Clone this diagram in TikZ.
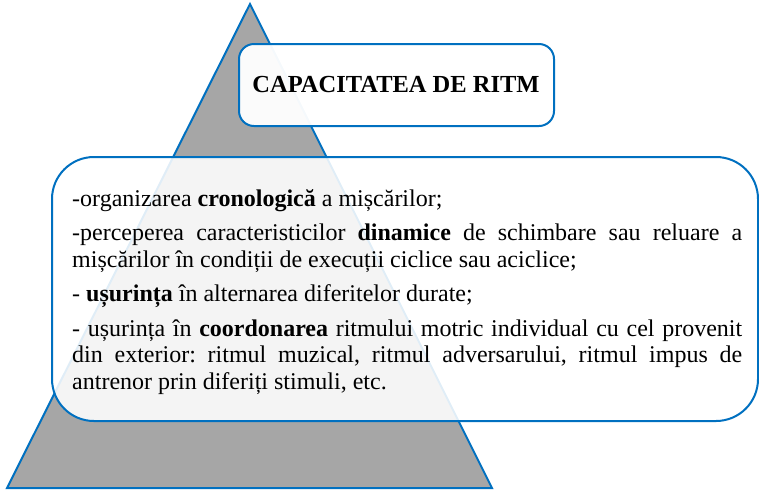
\documentclass[tikz,border=0pt]{standalone}
\usepackage{fontspec}
\setmainfont{Liberation Serif}
\definecolor{edgeblue}{HTML}{0070C0}
\definecolor{pyrgray}{HTML}{A6A6A6}
\tikzset{
  pyramid/.style={draw=edgeblue, line width=2pt, fill=pyrgray, line join=miter},
  titlebox/.style={draw=edgeblue, line width=2pt, fill=white, fill opacity=0.96, rounded corners=15pt},
  bigbox/.style={draw=edgeblue, line width=2pt, fill=white, fill opacity=0.88, rounded corners=42pt},
  titletext/.style={font=\fontsize{24.5}{28}\selectfont\bfseries, inner sep=0pt},
  bodytext/.style={inner sep=0pt, anchor=base west}
}
\begin{document}
\begin{tikzpicture}[x=1pt,y=-1pt]
\useasboundingbox (0,0) rectangle (759,491);
% pyramid
\draw[pyramid] (250,4) coordinate (apex) -- (7,488) coordinate (bl) -- (492,488) coordinate (br) -- cycle;
% title box
\draw[titlebox] (239,44) rectangle (554,126);
\node[titletext] (title) at (396,85) {CAPACITATEA DE RITM};
% big box
\draw[bigbox] (52,157) rectangle (758,421);
\node[bodytext] (body) at (72,206) {%
\begin{minipage}[t]{670pt}
\fontsize{24}{26.5}\selectfont\frenchspacing
\setlength{\parskip}{8pt}\setlength{\parindent}{0pt}
\hyphenpenalty=10000 \exhyphenpenalty=10000
-organizarea \textbf{cronologică} a mișcărilor;\par
-perceperea caracteristicilor \textbf{dinamice} de schimbare sau reluare a\linebreak
mișcărilor în condiții de execuții ciclice sau aciclice;\par
- \textbf{ușurința} în alternarea diferitelor durate;\par
- ușurința în \textbf{coordonarea} ritmului motric individual cu cel provenit\linebreak
din exterior: ritmul muzical, ritmul adversarului, ritmul impus de\linebreak
antrenor prin diferiți stimuli, etc.\par
\end{minipage}};
\end{tikzpicture}
\end{document}
